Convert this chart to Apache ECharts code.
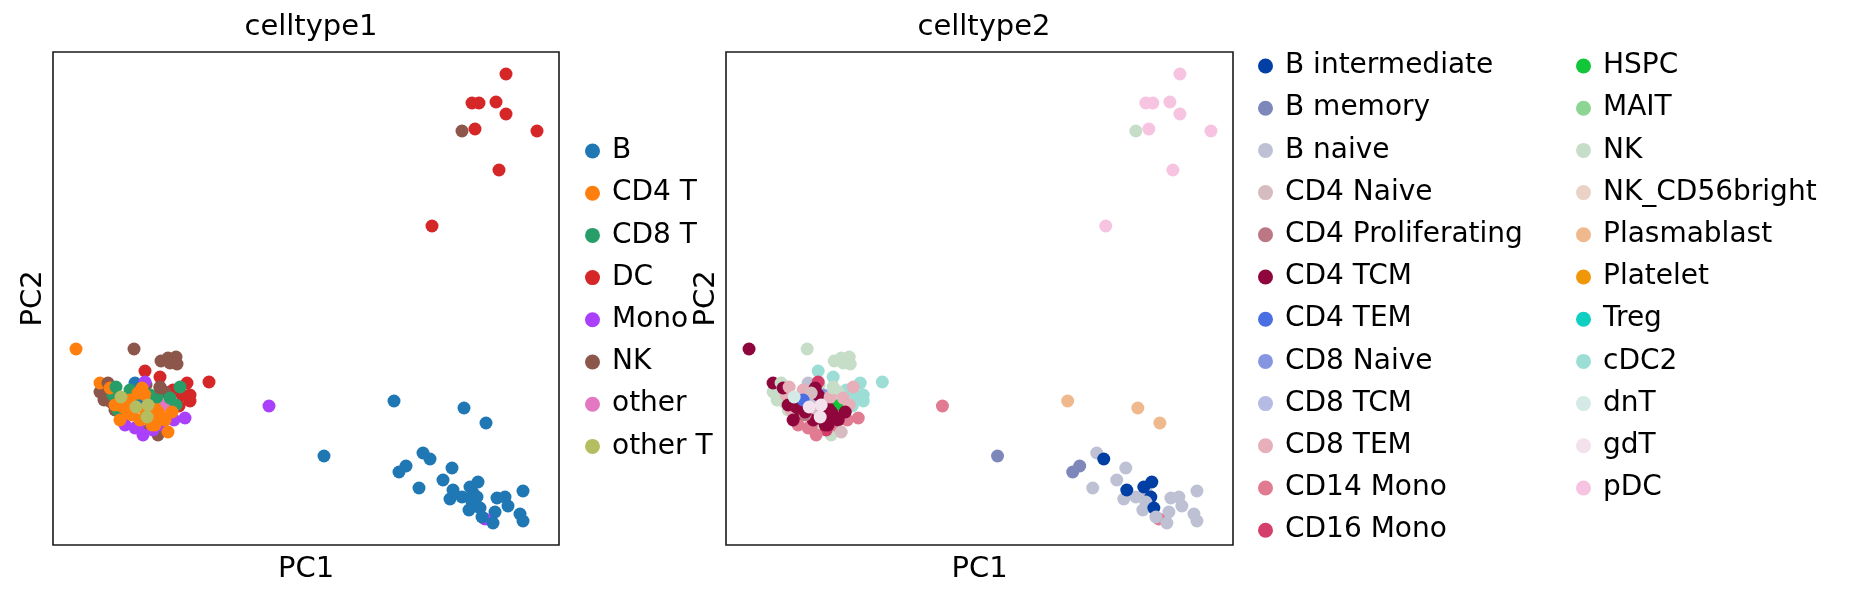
<!DOCTYPE html>
<html>
<head>
<meta charset="utf-8">
<script src="https://cdn.jsdelivr.net/npm/echarts@6/dist/echarts.min.js"></script>
<style>
html,body{margin:0;padding:0;background:#fff;}
#chart{width:1856px;height:599px;}
</style>
</head>
<body>
<div id="chart"></div>
<script>
// ---- data (PC coordinates) ----
const pc1 = [
  3.1, 5.8, 6.5, 7.3, 7.4, 6.7, -2.7, 4.2, 5.7, 10.6, 8.4, 8.7, 8.7, 7.6, 7.0, 7.9, 8.2,
  -0.3, 0.3, 0.8, 0.1, 1.2, 1.8, -0.3, 0.5, 3.2, 4.3, 5.7, 6.2, 5.3, 4.7, 5.5,
  4.2, 7.1, 3.2, 5.0, 3.5, 2.2, 5.9, 4.0, 6.3, 3.7, 4.7, 5.0, 3.2, 6.7, 7.3, 1.5, 1.0, 2.7,
  2.5, 1.2, 1.7, 3.7, 4.2, 5.2, 5.7, 6.9, 4.7, 2.9, 5.2, 6.2, 2.5, 4.2, 3.9, 0.7, 2.0, 3.5,
  2.7, 6.5, 5.5, 4.9, 2.9, 7.7, 1.3, 5.4, 1.8, 3.3, 4.4, 4.5, 5.7,
  16.6,
  29.1, 36.1, 38.3, 22.1, 32.0, 32.7, 30.3, 29.6, 34.9, 31.6, 34.0, 34.7, 35.9, 35.0, 37.0,
  36.7, 37.5, 37.4, 36.9, 36.6, 39.2, 37.7, 38.2, 37.9, 39.0, 39.4, 40.2, 40.5, 42.0, 41.7, 42.0,
  40.3, 36.9, 37.6, 39.3, 40.3, 35.9, 37.2, 43.4, 39.6, 32.9
];
const pc2 = [
  9.6, 8.4, 8.7, 8.8, 8.1, 8.2, 9.6, 7.4, 6.8, 6.3, 6.2, 5.0, 4.4, 3.9, 5.5, 5.0, 2.7,
  5.3, 5.2, 4.3, 4.5, 3.5, 3.0, 6.2, 6.2, 6.2, 6.0, 5.8, 5.3, 4.7, 1.7, 1.0,
  6.3, 2.5, 1.7, 1.5, 1.8, 2.0, 2.0, 1.0, 4.0, 4.5, 5.0, 4.5, 5.0, 4.7, 4.0, 3.5, 5.0, 5.5,
  3.2, 4.0, 2.5, 2.5, 3.5, 3.7, 3.0, 3.3, 2.5, 3.0, 2.0, 2.5, 4.0, 5.0, 5.7, 5.7, 3.8, 5.2,
  4.5, 1.3, 3.3, 2.0, 3.3, 5.8, 5.8, 4.8, 4.8, 3.8, 2.8, 4.0, 5.7,
  3.9,
  4.4, 3.7, 2.2, -1.1, -0.8, -1.4, -2.1, -2.7, -2.3, -4.3, -3.5, -5.4, -5.2, -4.5, -4.8,
  -4.2, -3.7, -5.2, -5.7, -6.5, -6.7, -6.3, -7.4, -7.2, -7.8, -5.3, -5.2, -6.1, -4.6, -6.9, -7.6,
  37.1, 34.2, 34.2, 34.3, 33.1, 31.4, 31.6, 31.4, 27.5, 21.9
];
const celltype1 = [
  'NK','NK','NK','NK','NK','NK','CD4 T','DC','DC','DC','DC','DC','DC','DC','DC','DC','Mono',
  'NK','NK','NK','NK','NK','NK','CD4 T','NK','B','NK','NK','NK','NK','NK','NK',
  'Mono','Mono','Mono','Mono','Mono','Mono','Mono','Mono','other','B','CD8 T','CD8 T','CD8 T','CD8 T','CD8 T','CD8 T','CD8 T','CD8 T',
  'CD4 T','CD4 T','CD4 T','CD4 T','CD4 T','CD4 T','CD4 T','CD4 T','CD4 T','CD4 T','CD4 T','CD4 T','CD4 T','CD4 T','CD4 T','CD4 T','CD4 T','CD4 T',
  'CD4 T','CD4 T','CD4 T','CD4 T','CD4 T','CD8 T','CD8 T','CD8 T','other T','other T','other T','other T','NK',
  'Mono',
  'B','B','B','B','B','B','B','B','B','B','B','B','B','B','B',
  'B','B','B','B','B','B','B','Mono','B','B','B','B','B','B','B','B',
  'DC','DC','DC','DC','DC','NK','DC','DC','DC','DC'
];
const celltype2 = [
  'NK','NK','NK','NK','NK','NK','CD4 TCM','cDC2','cDC2','cDC2','cDC2','cDC2','cDC2','cDC2','cDC2','cDC2','CD14 Mono',
  'NK','NK','NK','NK','NK','NK','CD4 TCM','NK','B naive','NK','NK','NK','NK','NK','NK',
  'CD16 Mono','CD14 Mono','CD14 Mono','CD16 Mono','CD14 Mono','CD14 Mono','CD14 Mono','CD14 Mono','HSPC','B naive','CD8 Naive','CD8 TCM','CD8 TCM','CD8 TEM','CD8 TEM','CD8 TEM','CD8 TEM','CD8 TEM',
  'CD4 TCM','CD4 TCM','CD4 TCM','CD4 TCM','CD4 Naive','CD4 TCM','CD4 TCM','CD4 TCM','CD4 TCM','CD4 Proliferating','CD4 TCM','CD4 TCM','CD4 TEM','CD4 TCM','CD4 TCM','CD4 TCM','CD4 TCM','CD4 Naive',
  'CD4 TEM','CD4 Naive','CD4 TCM','CD4 TCM','CD4 TCM','CD8 TEM','CD8 TEM','CD8 TEM','dnT','gdT','gdT','gdT','NK',
  'CD14 Mono',
  'Plasmablast','Plasmablast','Plasmablast','B memory','B naive','B intermediate','B memory','B memory','B naive','B naive','B naive','B naive','B naive','B intermediate','B naive',
  'B intermediate','B intermediate','B intermediate','B naive','B naive','B naive','B intermediate','CD14 Mono','B naive','B naive','B naive','B naive','B naive','B naive','B naive','B naive',
  'pDC','pDC','pDC','pDC','pDC','NK','pDC','pDC','pDC','pDC'
];
const categories1 = ['B','CD4 T','CD8 T','DC','Mono','NK','other','other T'];
const categories2a = ['B intermediate','B memory','B naive','CD4 Naive','CD4 Proliferating','CD4 TCM','CD4 TEM','CD8 Naive','CD8 TCM','CD8 TEM','CD14 Mono','CD16 Mono'];
const categories2b = ['HSPC','MAIT','NK','NK_CD56bright','Plasmablast','Platelet','Treg','cDC2','dnT','gdT','pDC'];

// ---- styles ----
const palette1 = ['#1f77b4','#ff7f0e','#279e68','#d62728','#aa40fc','#8c564b','#e377c2','#b5bd61'];
const palette2 = ['#023fa5','#7d87b9','#bec1d4','#d6bcc0','#bb7784','#8e063b','#4a6fe3','#8595e1','#b5bbe3','#e6afb9','#e07b91','#d33f6a',
                  '#11c638','#8dd593','#c6dec7','#ead3c6','#f0b98d','#ef9708','#0fcfc0','#9cded6','#d5eae7','#f3e1eb','#f6c4e1'];
const categories2 = categories2a.concat(categories2b);
const color1 = {}; categories1.forEach((c,i)=>color1[c]=palette1[i]);
const color2 = {}; categories2.forEach((c,i)=>color2[c]=palette2[i]);

const FONT = 'DejaVu Sans';
const DOT = 13;
const X_MIN = -5, X_MAX = 45.6, Y_MIN = -10, Y_MAX = 39.3;

function pts(labels, cmap) {
  return pc1.map((x,i)=>({value:[x, pc2[i]], itemStyle:{color:cmap[labels[i]], opacity:1}}));
}
function axisPair(gi, name, isX) {
  return {
    gridIndex: gi, type:'value', min: isX?X_MIN:Y_MIN, max: isX?X_MAX:Y_MAX,
    name: name, nameLocation:'middle', nameGap: isX?10:5,
    nameTextStyle:{fontFamily:FONT, fontSize:29, color:'#000'},
    axisLine:{show:false}, axisTick:{show:false}, axisLabel:{show:false}, splitLine:{show:false}
  };
}
const series = [
  {type:'scatter', name:'_p1', xAxisIndex:0, yAxisIndex:0, symbolSize:DOT, data: pts(celltype1, color1), itemStyle:{opacity:1}, silent:true, animation:false},
  {type:'scatter', name:'_p2', xAxisIndex:1, yAxisIndex:1, symbolSize:DOT, data: pts(celltype2, color2), itemStyle:{opacity:1}, silent:true, animation:false}
];
// legend-only series
categories1.forEach(c=>series.push({type:'scatter', name:c, xAxisIndex:0, yAxisIndex:0, data:[], itemStyle:{color:color1[c], opacity:1}}));
categories2.forEach(c=>{ if(!categories1.includes(c)) series.push({type:'scatter', name:c, xAxisIndex:1, yAxisIndex:1, data:[], itemStyle:{color:color2[c], opacity:1}}); });

function legend(names, cmap, left, top) {
  return {
    orient:'vertical', left:left, top:top, selectedMode:false,
    icon:'circle', itemWidth:15, itemHeight:15, itemGap:14.2, padding:0,
    textStyle:{fontFamily:FONT, fontSize:28, color:'#000', lineHeight:28, padding:[0,0,0,7]},
    data: names.map(n=>({name:n, itemStyle:{color:cmap[n], opacity:1}}))
  };
}

const chart = echarts.init(document.getElementById('chart'), null, {renderer:'canvas'});
chart.setOption({
  animation:false,
  backgroundColor:'#fff',
  title:[
    {text:'celltype1', left:306, top:8, textAlign:'center', textStyle:{fontFamily:FONT, fontSize:29, fontWeight:'normal', color:'#000'}},
    {text:'celltype2', left:979, top:8, textAlign:'center', textStyle:{fontFamily:FONT, fontSize:29, fontWeight:'normal', color:'#000'}}
  ],
  grid:[
    {left:53, top:52, width:506, height:493, show:true, borderColor:'#1a1a1a', borderWidth:1.6, backgroundColor:'transparent'},
    {left:726, top:52, width:507, height:493, show:true, borderColor:'#1a1a1a', borderWidth:1.6, backgroundColor:'transparent'}
  ],
  xAxis:[axisPair(0,'PC1',true), axisPair(1,'PC1',true)],
  yAxis:[axisPair(0,'PC2',false), axisPair(1,'PC2',false)],
  legend:[
    legend(categories1, color1, 585, 137),
    legend(categories2a, color2, 1258, 52),
    legend(categories2b, color2, 1576, 52)
  ],
  series: series
});
</script>
</body>
</html>
